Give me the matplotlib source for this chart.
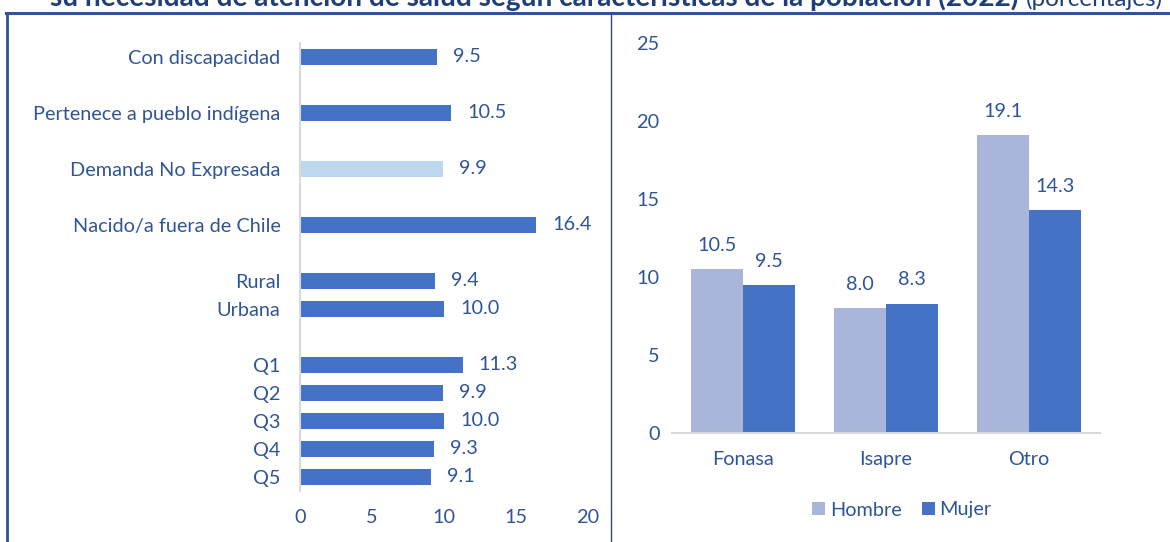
import matplotlib.pyplot as plt
from matplotlib.lines import Line2D

plt.rcParams['font.family'] = ['Lato', 'DejaVu Sans']

# Left panel data (top to bottom as drawn); None marks an empty slot
left_labels = ['Con discapacidad', '', 'Pertenece a pueblo indígena', '',
               'Demanda No Expresada', '', 'Nacido/a fuera de Chile', '',
               'Rural', 'Urbana', '', 'Q1', 'Q2', 'Q3', 'Q4', 'Q5']
left_values = [9.5, None, 10.5, None, 9.9, None, 16.4, None,
               9.4, 10.0, None, 11.3, 9.9, 10.0, 9.3, 9.1]
highlight = 'Demanda No Expresada'

# Right panel data
sistemas = ['Fonasa', 'Isapre', 'Otro']
hombre = [10.5, 8.0, 19.1]
mujer = [9.5, 8.3, 14.3]

text_col = '#2F5597'
bar_col = '#4472C4'
light_col = '#BDD7EE'
hombre_col = '#A9B6DA'
grid_col = '#D9D9D9'
frame_col = '#2F5597'
fs = 14.3

fig = plt.figure(figsize=(11.7, 5.42), dpi=100)

# ---- left: horizontal bars ----
ax1 = fig.add_axes([300 / 1170, 1 - 491 / 542, 288 / 1170, 448 / 542])
n = len(left_labels)
ys = [n - 1 - i for i in range(n)]
for y, lab, v in zip(ys, left_labels, left_values):
    if v is None:
        continue
    c = light_col if lab == highlight else bar_col
    ax1.barh(y, v, height=0.57, color=c)
    ax1.annotate(f'{v:.1f}', (v, y), xytext=(11.5, 0), textcoords='offset points',
                 ha='left', va='center', fontsize=fs, color=text_col)
ax1.set_ylim(-0.5, n - 0.5)
ax1.set_xlim(0, 20)
ax1.set_yticks(ys)
ax1.set_yticklabels(left_labels)
ax1.set_xticks([0, 5, 10, 15, 20])
ax1.tick_params(axis='y', length=0, pad=14, labelsize=fs, labelcolor=text_col)
ax1.tick_params(axis='x', length=0, pad=13, labelsize=fs, labelcolor=text_col)
for s in ['top', 'right', 'bottom']:
    ax1.spines[s].set_visible(False)
ax1.spines['left'].set_color(grid_col)
ax1.spines['left'].set_linewidth(1.5)

# ---- right: grouped columns ----
ax2 = fig.add_axes([672 / 1170, 1 - 433 / 542, 428 / 1170, 390 / 542])
w = 0.365
xs = list(range(len(sistemas)))
b1 = ax2.bar([x - w / 2 for x in xs], hombre, width=w, color=hombre_col, label='Hombre')
b2 = ax2.bar([x + w / 2 for x in xs], mujer, width=w, color=bar_col, label='Mujer')
for bars, vals in [(b1, hombre), (b2, mujer)]:
    for b, v in zip(bars, vals):
        ax2.annotate(f'{v:.1f}', (b.get_x() + b.get_width() / 2, v), xytext=(0, 17),
                     textcoords='offset points', ha='center', va='center',
                     fontsize=fs, color=text_col)
ax2.set_xlim(-0.5, len(sistemas) - 0.5)
ax2.set_ylim(0, 25)
ax2.set_yticks([0, 5, 10, 15, 20, 25])
ax2.set_xticks(xs)
ax2.set_xticklabels(sistemas)
ax2.tick_params(axis='y', length=0, pad=9, labelsize=fs, labelcolor=text_col)
ax2.tick_params(axis='x', length=0, pad=13, labelsize=fs, labelcolor=text_col)
for s in ['top', 'right', 'left']:
    ax2.spines[s].set_visible(False)
ax2.spines['bottom'].set_color(grid_col)
ax2.spines['bottom'].set_linewidth(1.5)

leg = fig.legend(handles=[b1, b2], loc='center', bbox_to_anchor=(902 / 1170, 1 - 510 / 542),
                 ncol=2, frameon=False, fontsize=fs, handlelength=0.65, handleheight=0.65,
                 handletextpad=0.25, columnspacing=1.0)
for t in leg.get_texts():
    t.set_color(text_col)

# ---- frame lines and cut title ----
fig.add_artist(Line2D([6 / 1170, 1], [1 - 13 / 542] * 2, color=frame_col, lw=2.2))
fig.add_artist(Line2D([7 / 1170] * 2, [0, 1 - 13 / 542], color=frame_col, lw=2.0))
fig.add_artist(Line2D([611 / 1170] * 2, [0, 1 - 13 / 542], color='#2E4A7D', lw=1.0))

fig.text(1018 / 1170, 1 - 6 / 542, 'su necesidad de atención de salud según características de la población (2022)',
         ha='right', va='baseline', fontsize=20.2, fontweight='bold', color='#1F3F7A')
fig.text(1026 / 1170, 1 - 6 / 542, '(porcentajes)', ha='left', va='baseline',
         fontsize=17.5, color='#1F3F7A')

fig.savefig('out.png', dpi=100)
